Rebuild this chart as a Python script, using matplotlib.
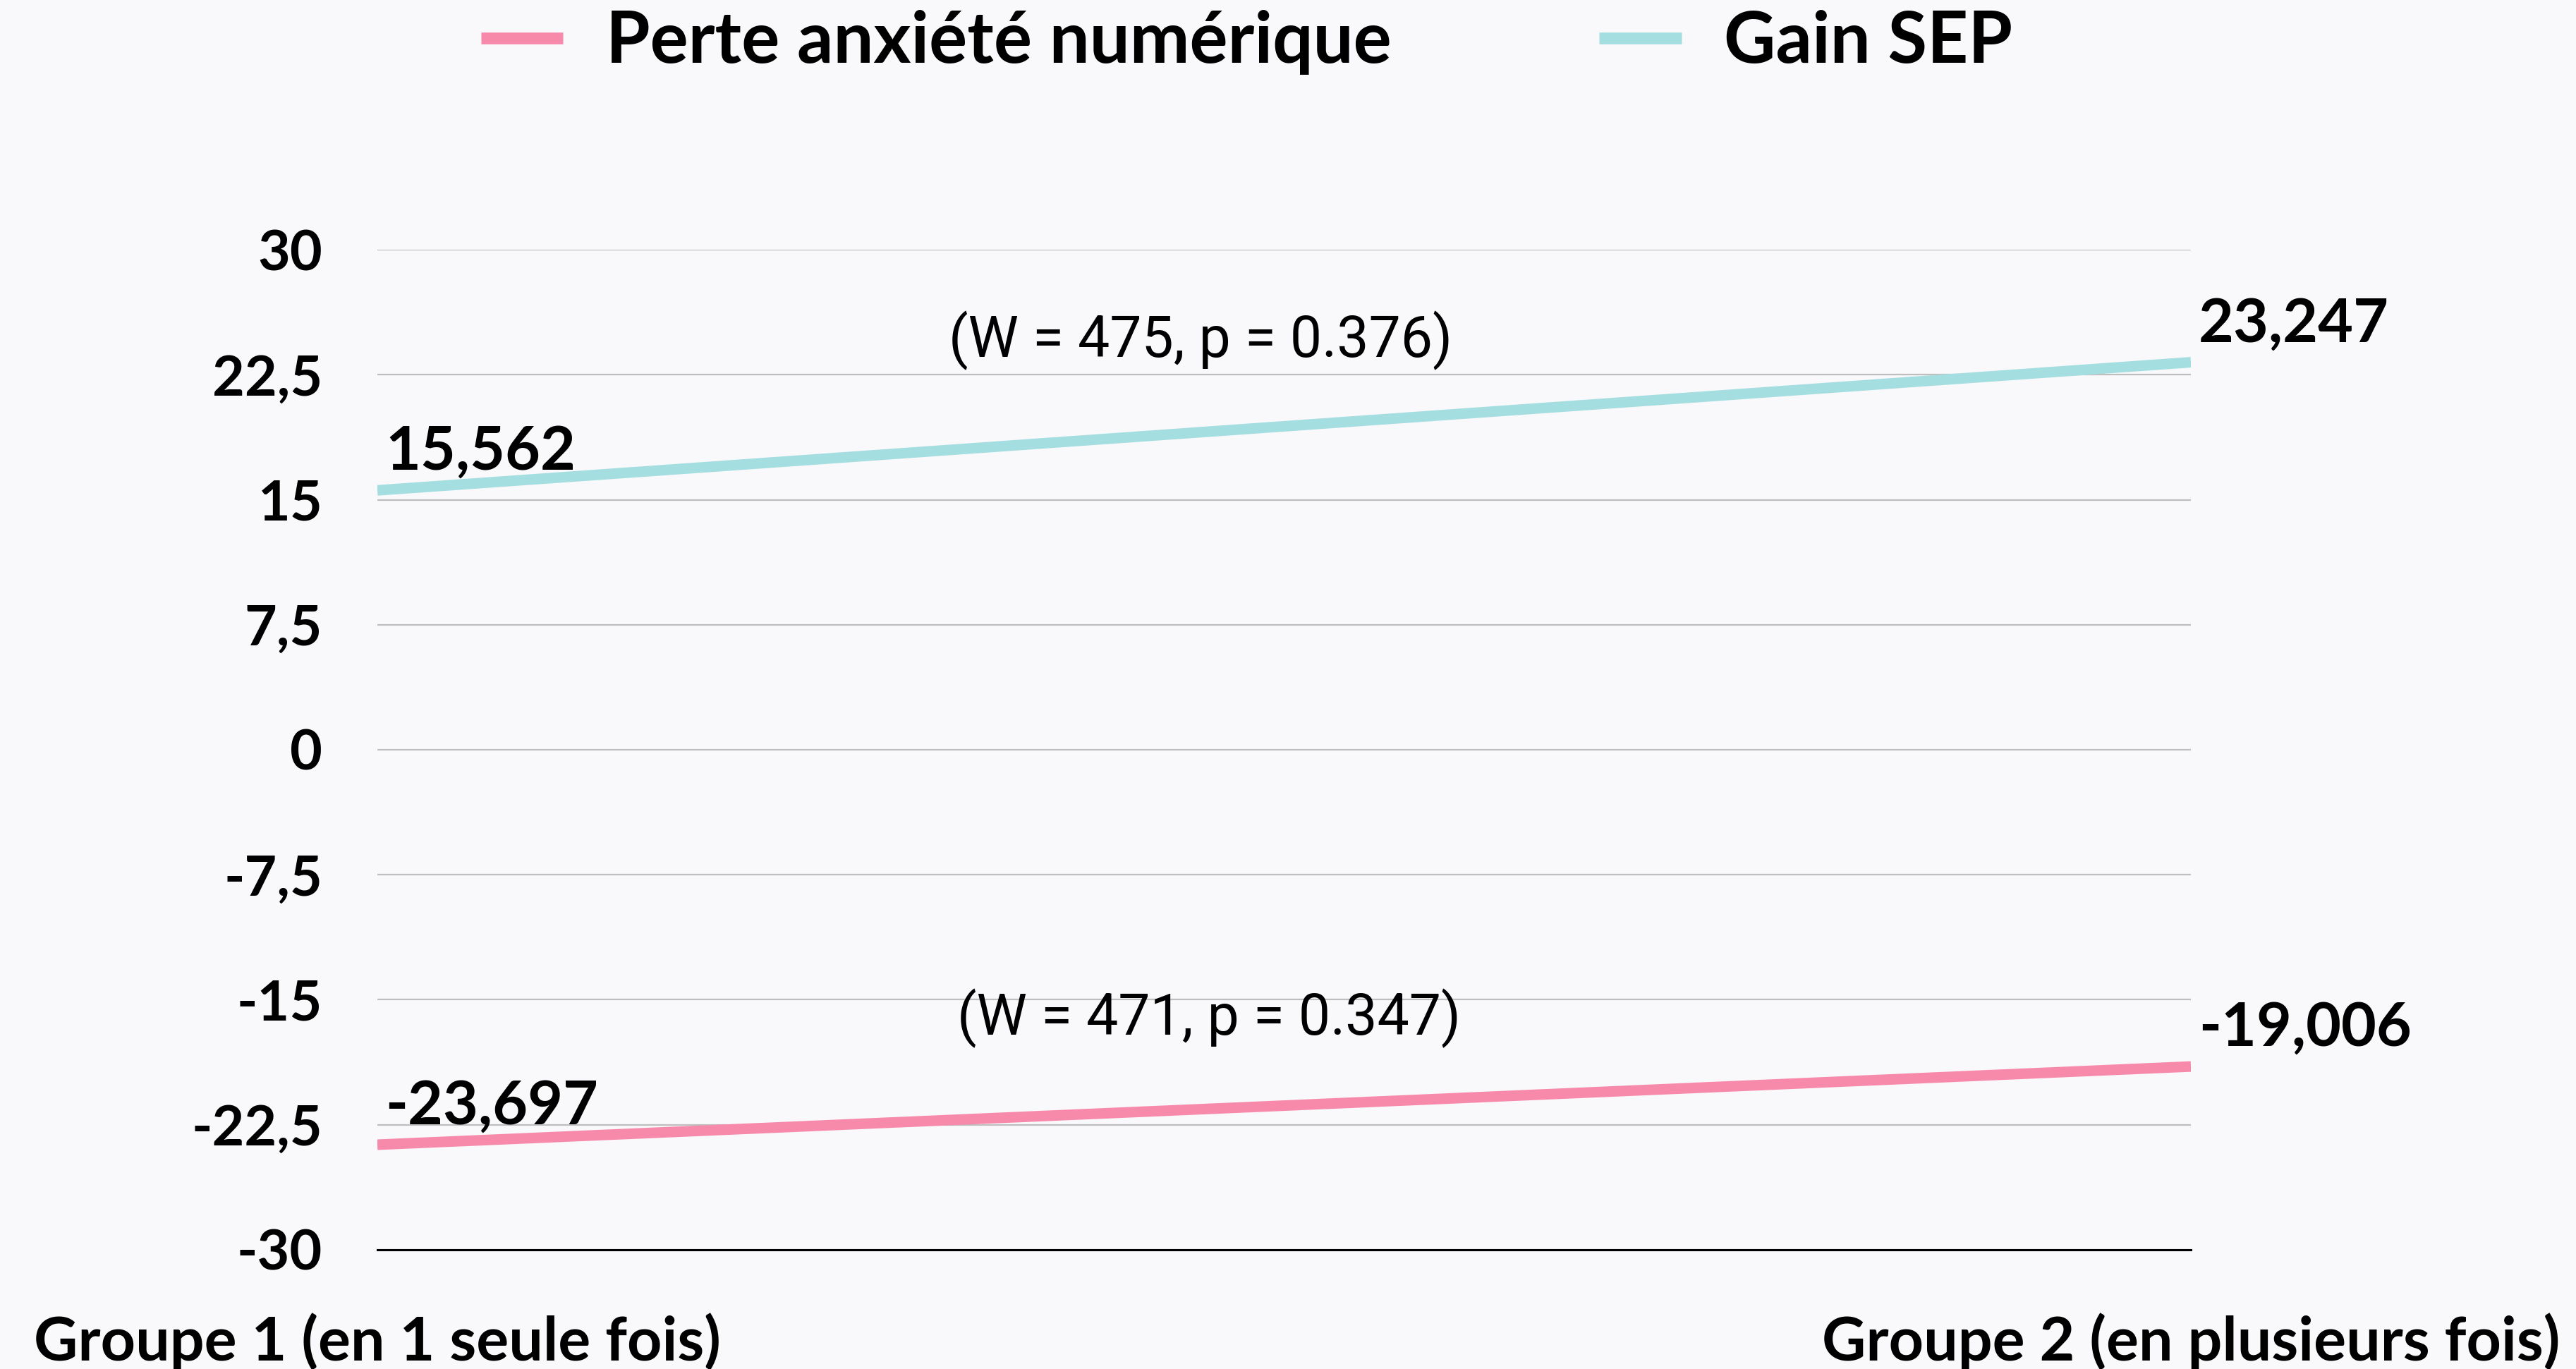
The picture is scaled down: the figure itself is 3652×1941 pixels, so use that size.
import numpy as np
import matplotlib.pyplot as plt

groups = ['Groupe 1 (en 1 seule fois)', 'Groupe 2 (en plusieurs fois)']
perte_anxiete = [-23.697, -19.006]
gain_sep = [15.562, 23.247]
series_names = ['Perte anxiété numérique', 'Gain SEP']
tests = ['(W = 471, p = 0.347)', '(W = 475, p = 0.376)']
y_ticks = [-30, -22.5, -15, -7.5, 0, 7.5, 15, 22.5, 30]
y_tick_labels = ['-30', '-22,5', '-15', '-7,5', '0', '7,5', '15', '22,5', '30']

bg = '#F9F8FB'
colors = ['#F78AAB', '#A5DEE1']

plt.rcParams['font.family'] = ['Lato', 'DejaVu Sans']
plt.rcParams['font.weight'] = 'bold'

fig = plt.figure(figsize=(36.52, 19.41), dpi=100, facecolor=bg)
ax = fig.add_axes([0.1465, 0.0871, 0.704, 0.7305])
ax.set_facecolor(bg)

x = np.arange(len(groups))
lines = []
for vals, name, col in zip([perte_anxiete, gain_sep], series_names, colors):
    ln, = ax.plot(x, vals, color=col, lw=10.8, solid_capstyle='butt', label=name, zorder=3)
    lines.append(ln)
    for xi, v in zip(x, vals):
        ax.annotate(f'{v:.3f}'.replace('.', ','), (xi, v), xytext=(8, 21),
                    textcoords='offset points', ha='left', va='baseline',
                    fontsize=62, fontweight='bold', annotation_clip=False, zorder=4)

# test statistics above each line
ax.text(0.454, 0.909, tests[1], transform=ax.transAxes, ha='center', va='center',
        fontsize=58, family='Roboto', fontweight='normal', color='black')
ax.text(0.4586, 0.2316, tests[0], transform=ax.transAxes, ha='center', va='center',
        fontsize=58, family='Roboto', fontweight='normal', color='black')

ax.set_xlim(0, 1)
ax.set_ylim(-30, 30)
ax.set_xticks(x)
ax.set_xticklabels(groups, fontsize=62, fontweight='bold')
ax.set_yticks(y_ticks)
ax.set_yticklabels(y_tick_labels, fontsize=57, fontweight='bold')
ax.tick_params(axis='both', length=0)
ax.tick_params(axis='x', pad=64)
ax.tick_params(axis='y', pad=56)

ax.grid(axis='y', color='#BEBEBE', lw=1.6, zorder=1)
ax.grid(axis='x', visible=False)
for s in ['left', 'right', 'top']:
    ax.spines[s].set_visible(False)
ax.spines['bottom'].set_color('black')
ax.spines['bottom'].set_linewidth(2.2)
ax.spines['bottom'].set_zorder(2)

leg = fig.legend(handles=lines, loc='center', bbox_to_anchor=(0.484, 0.969), ncol=2,
                 frameon=False, prop={'size': 73, 'weight': 'bold'},
                 handlelength=1.15, handletextpad=0.6, columnspacing=2.9)
for h in leg.legend_handles:
    h.set_linewidth(12)

fig.savefig('out.png', dpi=100, facecolor=bg)
